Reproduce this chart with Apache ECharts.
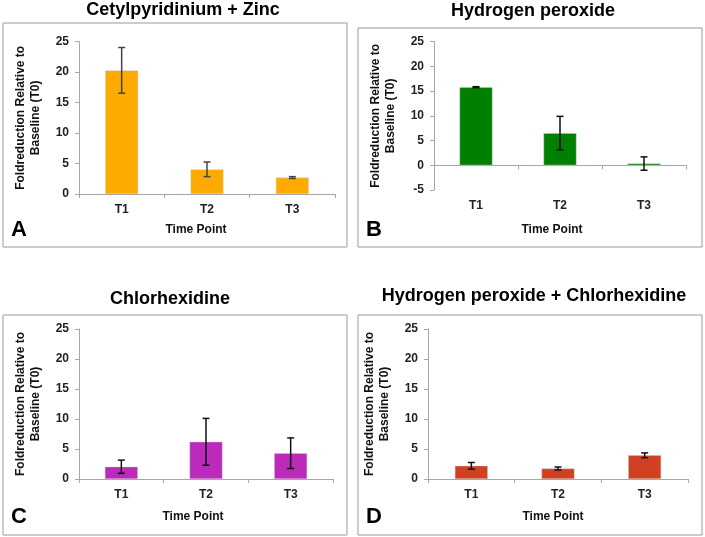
<!DOCTYPE html>
<html>
<head>
<meta charset="utf-8">
<script src="https://cdn.jsdelivr.net/npm/echarts@6/dist/echarts.min.js"></script>
<style>html,body{margin:0;padding:0;background:#fff;}#c{width:705px;height:537px;}</style>
</head>
<body>
<div id="c"></div>
<script>
const categories = ['T1', 'T2', 'T3'];
const panelTitles = ['Cetylpyridinium + Zinc', 'Hydrogen peroxide', 'Chlorhexidine', 'Hydrogen peroxide + Chlorhexidine'];
const panelLetters = ['A', 'B', 'C', 'D'];
const cpzMean = [20.3, 4.05, 2.7];
const cpzErr = [3.75, 1.2, 0.15];
const hpMean = [15.8, 6.5, 0.35];
const hpErr = [0.1, 3.4, 1.35];
const chxMean = [2.05, 6.2, 4.3];
const chxErr = [1.1, 3.9, 2.55];
const hpchxMean = [2.2, 1.75, 3.95];
const hpchxErr = [0.55, 0.25, 0.4];
const yMins = [0, -5, 0, 0];
const yMax = 25;
const yInterval = 5;
const xName = 'Time Point';
const yName = 'Foldreduction Relative to\nBaseline (T0)';

const means = [cpzMean, hpMean, chxMean, hpchxMean];
const errs = [cpzErr, hpErr, chxErr, hpchxErr];
const colors = ['#FFAA00', '#008000', '#BB2ABB', '#D24022'];
const errColors = ['#444', '#111', '#111', '#111'];

const grids = [
  {left: 79, top: 41.7, width: 256, height: 152.3},
  {left: 434, top: 41.7, width: 252, height: 148.3},
  {left: 79, top: 329, width: 254, height: 150},
  {left: 428, top: 329, width: 260, height: 150}
];
const frames = [[3, 23, 344, 224], [358, 28, 344, 219], [3, 315, 344, 220], [358, 315, 344, 220]];
const titlePos = [[183, 10], [533, 11], [170, 299], [534, 296]];
const letterPos = [[19, 230], [374, 230], [19, 517], [374, 517]];
const xNamePos = [[196, 230], [552, 230], [193, 517], [553, 517]];

const font = 'Arial, "Liberation Sans", sans-serif';
const xAxes = [], yAxes = [], series = [], graphics = [];

for (let k = 0; k < 4; k++) {
  xAxes.push({
    type: 'category', gridIndex: k, data: categories,
    axisLine: {lineStyle: {color: '#a6a6a6', width: 1}},
    axisTick: {show: true, length: 4, lineStyle: {color: '#a6a6a6'}},
    axisLabel: {color: '#222', fontWeight: 'bold', fontSize: 12, fontFamily: font, margin: 10}
  });
  yAxes.push({
    type: 'value', gridIndex: k, min: yMins[k], max: yMax, interval: yInterval,
    splitLine: {show: false},
    axisLine: {show: true, lineStyle: {color: '#a6a6a6', width: 1}},
    axisTick: {show: true, length: 4, lineStyle: {color: '#a6a6a6'}},
    axisLabel: {color: '#222', fontWeight: 'bold', fontSize: 12, fontFamily: font, margin: 10},
    name: yName, nameLocation: 'middle', nameRotate: 90, nameGap: 36,
    nameTextStyle: {color: '#111', fontWeight: 'bold', fontSize: 12, fontFamily: font, lineHeight: 15}
  });
  series.push({
    type: 'bar', xAxisIndex: k, yAxisIndex: k, data: means[k], barWidth: 33,
    itemStyle: {color: colors[k], borderColor: 'rgba(200,200,200,0.7)', borderWidth: 0.6},
    z: 2
  });
  const ed = means[k].map((m, i) => [i, m - errs[k][i], m + errs[k][i]]);
  const ec = errColors[k];
  series.push({
    type: 'custom', xAxisIndex: k, yAxisIndex: k, data: ed, z: 5,
    encode: {x: 0, y: [1, 2]},
    renderItem: function (params, api) {
      const x = api.value(0);
      const top = api.coord([x, api.value(2)]);
      const bot = api.coord([x, api.value(1)]);
      const w = 3.5;
      const st = {stroke: ec, lineWidth: 1.5};
      return {type: 'group', children: [
        {type: 'line', shape: {x1: top[0], y1: top[1], x2: bot[0], y2: bot[1]}, style: st},
        {type: 'line', shape: {x1: top[0] - w, y1: top[1], x2: top[0] + w, y2: top[1]}, style: st},
        {type: 'line', shape: {x1: bot[0] - w, y1: bot[1], x2: bot[0] + w, y2: bot[1]}, style: st}
      ]};
    }
  });
  const f = frames[k];
  graphics.push({type: 'rect', shape: {x: f[0], y: f[1], width: f[2], height: f[3]},
    style: {fill: 'none', stroke: '#9a9a9a', lineWidth: 1}, z: -1, silent: true});
  graphics.push({type: 'text', x: titlePos[k][0], y: titlePos[k][1],
    style: {text: panelTitles[k], fill: '#000', font: 'bold 18px ' + font, textAlign: 'center', textVerticalAlign: 'middle'}});
  graphics.push({type: 'text', x: letterPos[k][0], y: letterPos[k][1],
    style: {text: panelLetters[k], fill: '#000', font: 'bold 22px ' + font, textAlign: 'center', textVerticalAlign: 'middle'}});
  graphics.push({type: 'text', x: xNamePos[k][0], y: xNamePos[k][1],
    style: {text: xName, fill: '#111', font: 'bold 12px ' + font, textAlign: 'center', textVerticalAlign: 'middle'}});
}

const chart = echarts.init(document.getElementById('c'), null, {renderer: 'canvas'});
chart.setOption({
  animation: false,
  backgroundColor: '#fff',
  grid: grids,
  xAxis: xAxes,
  yAxis: yAxes,
  series: series,
  graphic: graphics
});
</script>
</body>
</html>
